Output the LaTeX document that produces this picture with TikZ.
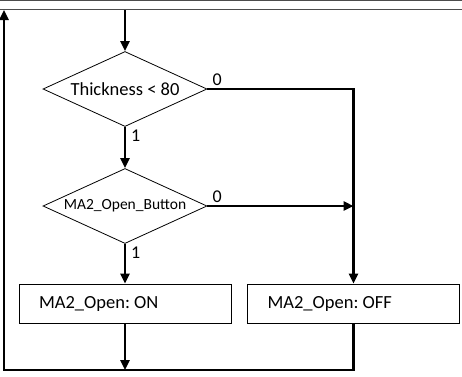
\documentclass[tikz,border=0pt]{standalone}
\usepackage{fontspec}
\setmainfont{Carlito}
\usetikzlibrary{shapes.geometric, positioning, arrows.meta}
\newcommand{\actiontext}[1]{\makebox[172pt][l]{\frenchspacing #1}}

\begin{document}
\begin{tikzpicture}[x=1pt, y=1pt, on grid,
    font=\fontsize{18.5}{22}\selectfont,
    decision/.style={diamond, draw, line width=0.8pt, aspect=2.19,
        minimum width=164pt, minimum height=75pt, inner sep=0pt},
    action/.style={rectangle, draw, line width=0.8pt, minimum height=39pt,
        inner xsep=20pt, inner ysep=0pt},
    flow/.style={line width=2.4pt, -{Triangle[length=10pt, width=9pt]}},
    bit/.style={font=\fontsize{18}{20}\selectfont, inner sep=2pt}]
    \useasboundingbox (0,0) rectangle (462,-376);
    % table rules
    \draw[gray!60!black, line width=1pt] (0,-0.5) -- (462,-0.5);
    \draw[gray!60!black, line width=1pt] (0,-9.5) -- (462,-9.5);

    % Decisions
    \node[decision] (thick) at (125,-89) {Thickness < 80};
    \node[decision, below=117pt of thick, font=\fontsize{15.5}{18}\selectfont] (button) {MA2\_Open\_Button};

    % Actions
    \node[action, below=97.5pt of button] (on) {\actiontext{MA2\_Open: ON}};
    \node[action, right=228.5pt of on] (off) {\actiontext{MA2\_Open: OFF}};

    \coordinate (entry) at (125,-10);
    \coordinate (back) at (4,-10);
    \coordinate (corner) at (4,-370);

    % Flow
    \draw[flow] (entry) -- (thick.north);
    \draw[flow] (thick.east) -| node[bit, pos=0, above right, xshift=2pt] {0} (off.north);
    \draw[flow] (thick.south) -- node[bit, pos=0, below right, xshift=3pt] {1} (button.north);
    \draw[flow] (button.east) -- node[bit, pos=0, above right, xshift=2pt] {0} (button.east -| off.north);
    \draw[flow] (button.south) -- node[bit, pos=0, below right, xshift=3pt] {1} (on.north);
    \draw[flow] (on.south) -- (on.south |- corner);
    \draw[flow] (off.south) |- (corner) -- (back);
\end{tikzpicture}
\end{document}
